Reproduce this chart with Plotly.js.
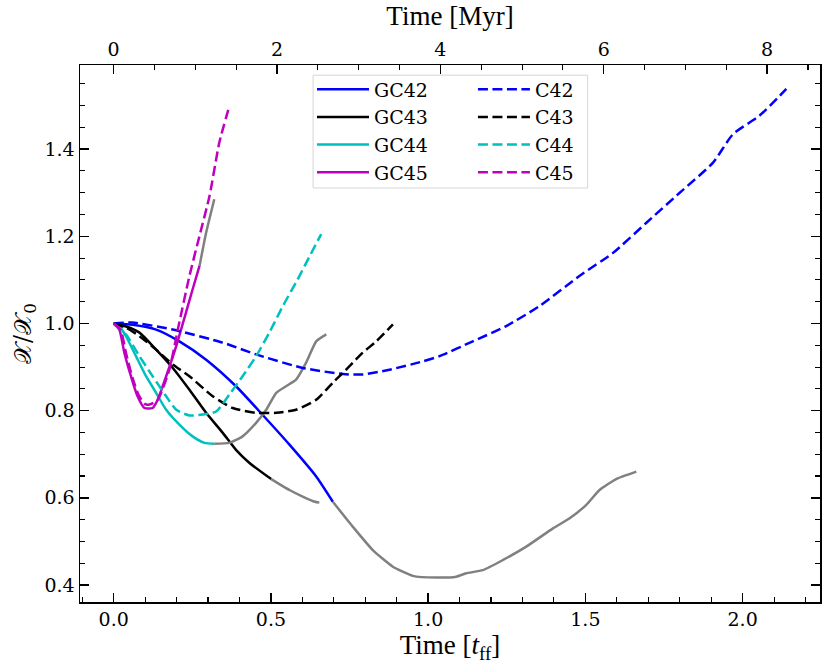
<!DOCTYPE html>
<html>
<head>
<meta charset="utf-8">
<script src="https://cdn.plot.ly/plotly-3.0.1.min.js"></script>
<style>
  html, body { margin: 0; padding: 0; background: #ffffff; }
  #chart { width: 831px; height: 671px; }
</style>
</head>
<body>
<div id="chart"></div>
<script>
// time in t_ff, ratio X/X0; the grey parts continue each GC run
const gc42T = [0, 0.06, 0.135, 0.209, 0.294, 0.389, 0.474, 0.559, 0.644, 0.697];
const gc42Y = [1.0, 0.997, 0.986, 0.959, 0.917, 0.856, 0.790, 0.722, 0.649, 0.591];
const gc42TailT = [0.697, 0.760, 0.824, 0.888, 0.951, 1.026, 1.089, 1.121, 1.174, 1.237, 1.312, 1.397, 1.450, 1.503, 1.545, 1.598, 1.662];
const gc42TailY = [0.591, 0.534, 0.480, 0.442, 0.421, 0.417, 0.419, 0.427, 0.434, 0.457, 0.488, 0.530, 0.553, 0.584, 0.618, 0.643, 0.660];

const gc43T = [0, 0.04, 0.082, 0.135, 0.188, 0.241, 0.294, 0.347, 0.389, 0.432, 0.501];
const gc43Y = [1.0, 0.993, 0.979, 0.940, 0.898, 0.848, 0.795, 0.749, 0.710, 0.680, 0.643];
const gc43TailT = [0.501, 0.559, 0.601, 0.640, 0.654];
const gc43TailY = [0.643, 0.618, 0.603, 0.591, 0.589];

const gc44T = [0, 0.02, 0.039, 0.071, 0.103, 0.135, 0.167, 0.209, 0.251, 0.289, 0.320];
const gc44Y = [1.0, 0.992, 0.971, 0.925, 0.879, 0.841, 0.802, 0.768, 0.741, 0.726, 0.724];
const gc44TailT = [0.320, 0.368, 0.410, 0.453, 0.485, 0.517, 0.548, 0.580, 0.612, 0.644, 0.676];
const gc44TailY = [0.724, 0.726, 0.741, 0.772, 0.802, 0.841, 0.856, 0.871, 0.910, 0.959, 0.975];

const gc45T = [0, 0.018, 0.034, 0.055, 0.076, 0.098, 0.124, 0.140, 0.167, 0.199, 0.230, 0.251, 0.273];
const gc45Y = [1.0, 0.986, 0.933, 0.879, 0.833, 0.806, 0.806, 0.825, 0.879, 0.948, 1.025, 1.078, 1.132];
const gc45TailT = [0.273, 0.294, 0.320];
const gc45TailY = [1.132, 1.208, 1.285];

const c42T = [0, 0.06, 0.188, 0.347, 0.453, 0.601, 0.729, 0.792, 0.877, 0.983, 1.036, 1.142, 1.248, 1.354, 1.481, 1.588, 1.694, 1.800, 1.906, 1.969, 2.054, 2.139];
const c42Y = [1.0, 1.002, 0.986, 0.956, 0.929, 0.898, 0.884, 0.883, 0.894, 0.913, 0.925, 0.959, 0.994, 1.040, 1.109, 1.162, 1.231, 1.300, 1.369, 1.434, 1.477, 1.538];

const c43T = [0, 0.04, 0.082, 0.135, 0.188, 0.241, 0.315, 0.379, 0.453, 0.517, 0.580, 0.644, 0.697, 0.750, 0.792, 0.835, 0.888];
const c43Y = [1.0, 0.990, 0.971, 0.940, 0.906, 0.879, 0.833, 0.806, 0.795, 0.795, 0.802, 0.825, 0.864, 0.902, 0.933, 0.959, 0.998];

const c44T = [0, 0.039, 0.082, 0.124, 0.167, 0.199, 0.241, 0.283, 0.326, 0.368, 0.410, 0.453, 0.495, 0.538, 0.585, 0.620, 0.660];
const c44Y = [1.0, 0.975, 0.925, 0.879, 0.833, 0.802, 0.789, 0.791, 0.798, 0.837, 0.879, 0.925, 0.979, 1.040, 1.101, 1.150, 1.205];

const c45T = [0, 0.022, 0.04, 0.06, 0.08, 0.1, 0.114, 0.140, 0.177, 0.204, 0.241, 0.273, 0.305, 0.336, 0.368];
const c45Y = [1.0, 0.985, 0.930, 0.875, 0.835, 0.815, 0.814, 0.825, 0.894, 0.986, 1.109, 1.201, 1.293, 1.415, 1.499];

const tffToMyr = 3.85;
const xRange = [-0.107, 2.246];
const yRange = [0.361, 1.593];

const blue = '#0000ff', black = '#000000', cyan = '#00bfbf', magenta = '#bf00bf', grey = '#808080';
const lw = 2.5;
const dash = '10px,4.5px';

const tick = {family: 'DejaVu Serif', size: 19, color: '#000000'};
const titleFont = {family: 'Liberation Serif', size: 27, color: '#000000'};

const run = (name, t, y, color, dashed, rank, legend) => ({
    x: t, y: y, name: name,
    type: 'scatter', mode: 'lines',
    line: {color: color, width: lw, dash: dashed ? dash : 'solid', shape: 'spline', smoothing: 0.6},
    legend: legend, legendrank: rank,
    hoverinfo: 'skip',
});
const tail = (t, y) => ({
    x: t, y: y, type: 'scatter', mode: 'lines',
    line: {color: grey, width: lw, shape: 'spline', smoothing: 0.5},
    showlegend: false, hoverinfo: 'skip',
});

const data = [
    run('GC42', gc42T, gc42Y, blue, false, 1, 'legend'),
    run('GC43', gc43T, gc43Y, black, false, 2, 'legend'),
    run('GC44', gc44T, gc44Y, cyan, false, 3, 'legend'),
    run('GC45', gc45T, gc45Y, magenta, false, 4, 'legend'),
    tail(gc42TailT, gc42TailY),
    tail(gc43TailT, gc43TailY),
    tail(gc44TailT, gc44TailY),
    tail(gc45TailT, gc45TailY),
    run('C42', c42T, c42Y, blue, true, 1, 'legend2'),
    run('C43', c43T, c43Y, black, true, 2, 'legend2'),
    run('C44', c44T, c44Y, cyan, true, 3, 'legend2'),
    run('C45', c45T, c45Y, magenta, true, 4, 'legend2'),
    // invisible copy of C42 in Myr so the top axis gets built
    {
        x: c42T.map(t => t * tffToMyr), y: c42Y, xaxis: 'x2', yaxis: 'y',
        type: 'scatter', mode: 'lines', line: {width: 0}, opacity: 0,
        showlegend: false, hoverinfo: 'skip',
    },
];

const legendBase = {
    bgcolor: 'rgba(0,0,0,0)',
    borderwidth: 0,
    font: {family: 'DejaVu Serif', size: 19, color: '#000000'},
    xanchor: 'left', yanchor: 'top',
    itemwidth: 52,
    traceorder: 'normal',
};

const minorTicks = (step) => ({dtick: step, ticks: 'inside', ticklen: 5, tickwidth: 1.1, tickcolor: '#000000'});

const layout = {
    width: 831,
    height: 671,
    showlegend: true,
    legend: {...legendBase, x: 0.3135, y: 0.99},
    legend2: {...legendBase, x: 0.531, y: 0.99},
    shapes: [{
        type: 'rect', xref: 'paper', yref: 'paper',
        x0: 0.315, x1: 0.686, y0: 0.771, y1: 0.981,
        line: {color: '#d6d6d6', width: 1}, fillcolor: 'rgba(255,255,255,0.8)',
        layer: 'below',
    }],
    xaxis: {
        range: xRange,
        dtick: 0.5, tick0: 0, tickformat: '.1f',
        ticks: 'inside', ticklen: 9, tickwidth: 1.4, tickcolor: '#000000',
        minor: minorTicks(0.1),
        showline: true, linecolor: '#000000', linewidth: 1.5, mirror: false,
        showgrid: false, zeroline: false,
        tickfont: tick, ticklabelposition: 'outside',
        automargin: false,
        title: {text: 'Time [<i>t</i><sub>ff</sub>]', font: titleFont, standoff: 4},
    },
    xaxis2: {
        overlaying: 'x', side: 'top', anchor: 'y',
        range: [xRange[0] * tffToMyr, xRange[1] * tffToMyr],
        dtick: 2, tick0: 0,
        ticks: 'inside', ticklen: 9, tickwidth: 1.4, tickcolor: '#000000',
        minor: minorTicks(0.5),
        showline: true, linecolor: '#000000', linewidth: 1.5,
        showgrid: false, zeroline: false,
        tickfont: tick, ticklabelposition: 'outside',
        automargin: false,
        title: {text: 'Time [Myr]', font: titleFont, standoff: 4},
    },
    yaxis: {
        range: yRange,
        dtick: 0.2, tick0: 0, tickformat: '.1f',
        ticks: 'inside', ticklen: 9, tickwidth: 1.4, tickcolor: '#000000',
        minor: minorTicks(0.05),
        showline: true, linecolor: '#000000', linewidth: 1.5, mirror: 'ticks',
        showgrid: false, zeroline: false,
        tickfont: tick, ticklabelposition: 'outside',
        automargin: false,
        title: {text: '𝒳/𝒳<sub>0</sub>', font: {family: 'DejaVu Serif', size: 24, color: '#000000'}, standoff: 6},
    },
    plot_bgcolor: '#ffffff',
    paper_bgcolor: '#ffffff',
    margin: {l: 80, r: 11, t: 65, b: 69, pad: 0},
    hovermode: false,
};

Plotly.newPlot('chart', data, layout, {displayModeBar: false, staticPlot: true});
</script>
</body>
</html>
